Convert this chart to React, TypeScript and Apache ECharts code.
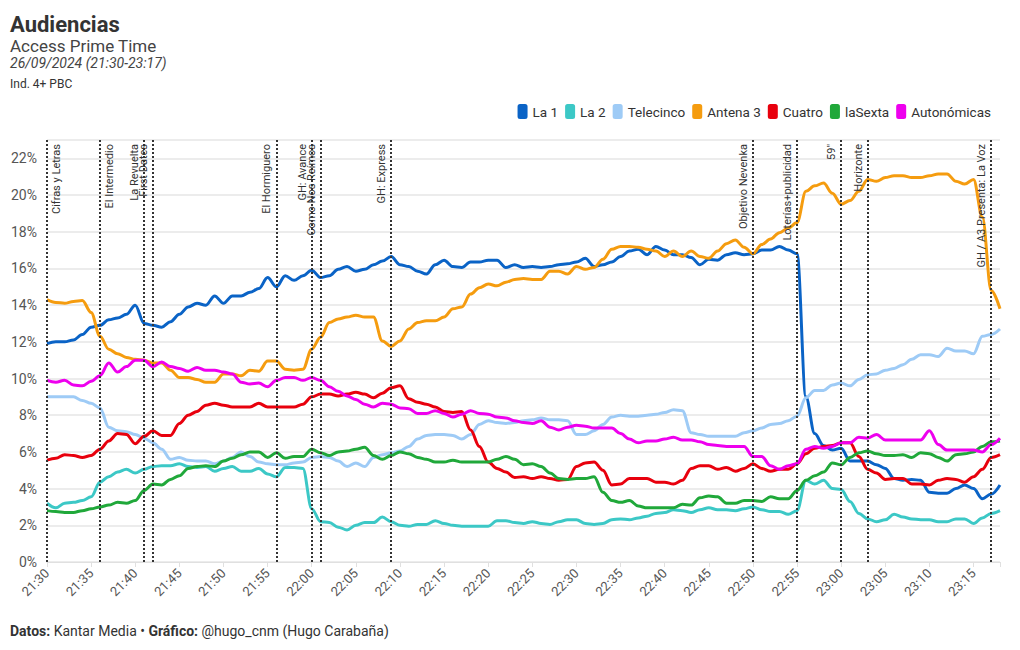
import React, { useEffect, useRef } from "react";
import * as echarts from "echarts";

const startMinutes = 21 * 60 + 30;
const seriesNames = ["La 1", "La 2", "Telecinco", "Antena 3", "Cuatro", "laSexta", "Autonómicas"];
const seriesColors = ["#0a63c6", "#3cc8c6", "#9ecbf6", "#f59c0f", "#e8000d", "#20a83a", "#ee00ee"];

const la1 = [
  11.9, 12.0, 12.0, 12.1, 12.4, 12.8, 12.9, 13.2, 13.3, 13.5,
  14.0, 13.0, 12.9, 12.8, 13.1, 13.5, 13.9, 14.1, 14.0, 14.5,
  14.1, 14.5, 14.5, 14.7, 14.9, 15.5, 15.0, 15.6, 15.35, 15.6,
  15.9, 15.5, 15.6, 15.95, 16.1, 15.85, 15.95, 16.2, 16.4, 16.65,
  16.2, 16.1, 15.85, 15.7, 16.2, 16.45, 16.1, 16.05, 16.35, 16.35,
  16.45, 16.45, 16.05, 16.2, 16.05, 16.1, 16.05, 16.1, 16.2, 16.25,
  16.35, 16.55, 16.1, 16.2, 16.35, 16.65, 16.95, 17.05, 16.75, 17.2,
  17.0, 16.75, 16.75, 16.6, 16.2, 16.5, 16.45, 16.75, 16.85, 16.75,
  16.8, 17.0, 17.0, 17.2, 17.0, 16.8, 9.0, 7.0, 6.35, 6.1,
  6.2, 5.5, 5.5, 5.5, 5.3, 5.1, 4.55, 4.45, 4.5, 4.45,
  3.8, 3.75, 3.75, 4.0, 4.2, 4.0, 3.45, 3.7, 4.2,
];
const la2 = [
  3.2, 2.95, 3.2, 3.25, 3.35, 3.55, 4.35, 4.65, 4.9, 5.05,
  4.85, 5.05, 5.2, 5.25, 5.25, 5.35, 5.2, 5.15, 5.2, 4.95,
  5.1, 5.2, 4.95, 4.95, 5.1, 4.8, 4.65, 5.15, 5.15, 5.1,
  2.9, 2.2, 2.15, 1.9, 1.75, 2.0, 2.15, 2.15, 2.45, 2.2,
  2.0, 1.95, 2.05, 2.05, 2.25, 2.1, 2.0, 1.95, 1.95, 1.95,
  1.95, 2.25, 2.25, 2.15, 2.1, 2.2, 2.1, 2.05, 2.2, 2.3,
  2.3, 2.1, 2.05, 2.1, 2.3, 2.35, 2.3, 2.4, 2.5, 2.65,
  2.7, 2.85, 2.8, 2.7, 2.85, 2.95, 2.85, 2.85, 2.8, 2.9,
  3.0, 2.85, 2.75, 2.75, 2.6, 2.8, 4.45, 4.25, 4.45, 4.0,
  3.95, 3.3, 2.65, 2.35, 2.2, 2.3, 2.6, 2.45, 2.35, 2.3,
  2.3, 2.2, 2.2, 2.35, 2.35, 2.1, 2.4, 2.65, 2.8,
];
const telecinco = [
  9.0, 9.0, 9.0, 9.0, 8.8, 8.65, 8.4, 7.35, 7.15, 7.1,
  6.95, 6.75, 6.5, 6.15, 5.6, 5.7, 5.55, 5.5, 5.5, 5.35,
  5.5, 5.7, 6.0, 5.75, 5.45, 5.35, 5.3, 5.3, 5.4, 5.45,
  5.7, 5.75, 5.7, 5.5, 5.2, 5.4, 5.2, 5.7, 5.85, 5.95,
  6.05, 6.3, 6.7, 6.9, 6.95, 6.95, 6.9, 6.7, 6.95, 7.5,
  7.7, 7.6, 7.55, 7.6, 7.7, 7.75, 7.85, 7.75, 7.75, 7.7,
  6.95, 6.95, 7.15, 7.5, 7.9, 8.0, 7.95, 7.95, 8.0, 8.05,
  8.15, 8.3, 8.25, 7.05, 6.95, 6.85, 6.85, 6.85, 6.85, 7.05,
  7.15, 7.3, 7.5, 7.55, 7.7, 7.95, 8.95, 9.35, 9.35, 9.65,
  9.75, 9.6, 9.95, 10.2, 10.25, 10.45, 10.55, 10.75, 11.05, 11.3,
  11.3, 11.2, 11.65, 11.5, 11.5, 11.35, 12.3, 12.4, 12.7,
];
const antena3 = [
  14.3, 14.15, 14.1, 14.2, 14.25, 13.6, 12.3, 11.6, 11.35, 11.15,
  11.05, 11.0, 10.85, 10.85, 10.45, 10.05, 10.05, 9.95, 9.8, 9.8,
  10.25, 10.25, 10.15, 10.45, 10.4, 10.95, 10.95, 10.5, 10.45, 10.5,
  11.6, 12.25, 13.05, 13.25, 13.35, 13.45, 13.35, 13.35, 12.05, 11.75,
  12.05, 12.7, 13.05, 13.15, 13.15, 13.35, 13.8, 13.9, 14.6, 14.95,
  15.15, 15.05, 15.25, 15.4, 15.45, 15.4, 15.4, 15.85, 15.85, 15.7,
  16.1, 15.95, 16.05, 16.5, 17.05, 17.2, 17.2, 17.15, 17.05, 16.95,
  16.65, 16.95, 16.65, 16.95, 16.65, 16.55, 16.95, 17.35, 17.55, 17.15,
  16.8, 17.3, 17.6, 17.95, 18.2, 18.5, 20.2, 20.5, 20.65, 20.1,
  19.5, 19.7, 20.2, 20.85, 20.75, 20.95, 21.05, 21.05, 20.95, 20.95,
  21.05, 21.15, 21.15, 20.75, 20.6, 20.85, 18.8, 14.8, 13.8,
];
const cuatro = [
  5.55, 5.65, 5.85, 5.8, 5.7, 5.8, 6.15, 6.6, 7.0, 6.95,
  6.45, 6.85, 7.15, 6.9, 6.9, 7.55, 8.0, 8.2, 8.55, 8.65,
  8.55, 8.45, 8.45, 8.45, 8.65, 8.45, 8.45, 8.45, 8.45, 8.6,
  9.0, 9.15, 9.15, 9.05, 9.15, 9.25, 9.15, 8.95, 9.2, 9.5,
  9.6, 8.9, 8.7, 8.6, 8.45, 8.2, 8.15, 8.2, 7.2, 6.3,
  5.45, 5.1, 4.9, 4.6, 4.65, 4.55, 4.65, 4.55, 4.45, 4.5,
  5.2, 5.4, 5.45, 5.0, 4.2, 4.25, 4.55, 4.55, 4.55, 4.35,
  4.35, 4.25, 4.45, 5.1, 5.25, 5.25, 5.05, 5.15, 4.95, 5.1,
  5.35, 5.1, 4.95, 5.05, 5.05, 5.35, 5.9, 6.2, 6.3, 6.35,
  6.5, 6.5, 5.75, 5.05, 4.85, 4.5, 4.55, 4.55, 4.25, 4.25,
  4.2, 4.45, 4.55, 4.5, 4.35, 4.65, 5.05, 5.7, 5.85,
];
const laSexta = [
  2.8, 2.75, 2.7, 2.7, 2.8, 2.9, 3.0, 3.1, 3.25, 3.2,
  3.35, 3.9, 4.25, 4.2, 4.5, 4.7, 5.1, 5.2, 5.25, 5.2,
  5.5, 5.65, 5.85, 6.0, 6.0, 5.7, 5.95, 5.65, 5.75, 5.75,
  6.15, 5.95, 5.8, 6.0, 6.05, 6.15, 6.25, 5.8, 5.6, 5.8,
  6.0, 5.9, 5.7, 5.6, 5.45, 5.45, 5.55, 5.45, 5.45, 5.45,
  5.45, 5.6, 5.75, 5.6, 5.3, 5.35, 5.2, 4.85, 4.55, 4.5,
  4.55, 4.55, 4.65, 3.8, 3.35, 3.25, 3.35, 3.05, 2.95, 2.95,
  2.95, 2.95, 3.15, 3.1, 3.5, 3.6, 3.55, 3.2, 3.2, 3.35,
  3.35, 3.3, 3.55, 3.45, 3.45, 3.9, 4.45, 4.7, 4.9, 5.4,
  5.3, 5.7, 5.95, 6.05, 5.9, 5.8, 5.8, 5.85, 5.7, 5.95,
  5.9, 5.7, 5.5, 5.85, 5.9, 6.0, 6.3, 6.55, 6.6,
];
const autonomicas = [
  9.9, 9.8, 9.9, 9.65, 9.6, 9.85, 10.15, 10.85, 10.35, 10.65,
  11.0, 11.0, 10.65, 10.9, 10.65, 10.55, 10.4, 10.6, 10.45, 10.45,
  10.35, 10.25, 9.8, 9.7, 9.75, 9.55, 9.9, 10.05, 10.05, 9.9,
  10.05, 9.9, 9.55, 9.3, 9.05, 8.85, 8.6, 8.45, 8.65, 8.6,
  8.4, 8.35, 8.1, 8.1, 8.25, 8.1, 7.9, 8.05, 8.25, 8.1,
  8.05, 7.9, 7.85, 7.7, 7.6, 7.55, 7.7, 7.35, 7.2, 7.35,
  7.45, 7.4, 7.3, 7.3, 7.3, 7.0, 6.7, 6.5, 6.6, 6.6,
  6.7, 6.8, 6.65, 6.65, 6.55, 6.4, 6.35, 6.3, 6.3, 6.3,
  5.75, 5.75, 5.25, 5.05, 5.25, 5.35, 6.15, 6.3, 6.2, 6.3,
  6.5, 6.5, 6.8, 6.75, 6.95, 6.65, 6.65, 6.65, 6.65, 6.65,
  7.15, 6.4, 6.1, 6.1, 6.1, 6.1, 6.0, 6.4, 6.75,
];

// Programme start markers: minutes after 21:30
const eventMinutes = [0, 6, 11, 12, 26, 30, 31, 39, 80, 85, 90, 93, 107];
const eventLabels = [
  "Cifras y Letras", "El Intermedio", "La Revuelta", "First Dates", "El Hormiguero",
  "GH: Avance", "Como Nos Reímos", "GH: Express", "Objetivo Nevenka",
  "Loterías+publicidad", "59\"", "Horizonte", "GH / A3 Presenta: La Voz",
];
const eventRightSide = [true, true, false, false, false, false, false, false, false, false, false, false, false];

const seriesValues = [la1, la2, telecinco, antena3, cuatro, laSexta, autonomicas];

const fmtTime = (m: number) => {
  const t = startMinutes + m;
  const h = Math.floor(t / 60);
  const mm = t % 60;
  return `${h}:${mm < 10 ? "0" : ""}${mm}`;
};

const FONT = "Roboto, 'Noto Sans', sans-serif";

export default function App() {
  const ref = useRef<HTMLDivElement>(null);
  useEffect(() => {
    if (!ref.current) return;
    const chart = echarts.init(ref.current, undefined, { renderer: "svg" });

    const series: any[] = seriesNames.map((name, i) => ({
      name,
      type: "line",
      data: seriesValues[i].map((v, k) => [k, v]),
      showSymbol: false,
      symbol: "none",
      smooth: 0.35,
      smoothMonotone: "x",
      lineStyle: { width: 3, color: seriesColors[i] },
      itemStyle: { color: seriesColors[i] },
      emphasis: { disabled: true },
    }));

    series[series.length - 1].markLine = {
      silent: true,
      symbol: ["none", "none"],
      z: 10,
      lineStyle: { type: "dotted", color: "#333", width: 2 },
      emphasis: { disabled: true },
      data: eventMinutes.map((m, i) => ({
        xAxis: m,
        name: eventLabels[i],
        label: {
          show: true,
          formatter: "{b}",
          position: eventRightSide[i] ? "insideEndBottom" : "insideEndTop",
          fontSize: 11,
          color: "#333",
          fontFamily: FONT,
          distance: 4,
        },
      })),
    };

    chart.setOption({
      animation: false,
      textStyle: { fontFamily: FONT },
      color: seriesColors,
      grid: { left: 47, right: 20, top: 140, bottom: 88, containLabel: false },
      legend: {
        data: seriesNames,
        right: 24,
        top: 99,
        icon: "roundRect",
        itemWidth: 10,
        itemHeight: 15,
        itemGap: 7,
        textStyle: { fontSize: 13.5, color: "#333", fontFamily: FONT },
        selectedMode: false,
      },
      xAxis: {
        type: "value",
        min: 0,
        max: 108,
        interval: 5,
        axisLine: { show: true, lineStyle: { color: "#e0e0e0" } },
        axisTick: { show: true, length: 5, lineStyle: { color: "#e0e0e0" } },
        splitLine: { show: false },
        axisLabel: {
          rotate: 45,
          fontSize: 13,
          color: "#555",
          margin: 9,
          fontFamily: FONT,
          formatter: (v: number) => (v % 5 === 0 ? fmtTime(v) : ""),
        },
      },
      yAxis: {
        type: "value",
        min: 0,
        max: 23,
        interval: 2,
        axisLine: { show: false },
        axisTick: { show: false },
        splitLine: { show: true, lineStyle: { color: "#e6e6e6", width: 1.5 } },
        axisLabel: {
          fontSize: 14,
          color: "#555",
          margin: 10,
          fontFamily: FONT,
          formatter: (v: number) => (v % 2 === 0 ? `${v}%` : ""),
        },
      },
      graphic: [
        {
          type: "text", left: 10, top: 13,
          style: { text: "Audiencias", fontSize: 22, fontWeight: "bold", fill: "#333", fontFamily: FONT },
        },
        {
          type: "text", left: 10, top: 37,
          style: { text: "Access Prime Time", fontSize: 17, fill: "#444", fontFamily: FONT },
        },
        {
          type: "text", left: 10, top: 56,
          style: { text: "26/09/2024 (21:30-23:17)", fontSize: 14, fontStyle: "italic", fill: "#444", fontFamily: FONT },
        },
        {
          type: "text", left: 10, top: 78,
          style: { text: "Ind. 4+ PBC", fontSize: 12, fill: "#333", fontFamily: FONT },
        },
        {
          type: "text", left: 10, top: 624,
          style: {
            text: "{b|Datos:} Kantar Media • {b|Gráfico:} @hugo_cnm (Hugo Carabaña)",
            fontSize: 14, fill: "#333", fontFamily: FONT,
            rich: { b: { fontWeight: "bold", fontSize: 14, fill: "#333", fontFamily: FONT } },
          },
        },
      ],
      series,
    });
    return () => chart.dispose();
  }, []);
  return (
    <div
      ref={ref}
      style={{ position: "fixed", left: 0, top: 0, width: 1020, height: 650, background: "#fff" }}
    />
  );
}
